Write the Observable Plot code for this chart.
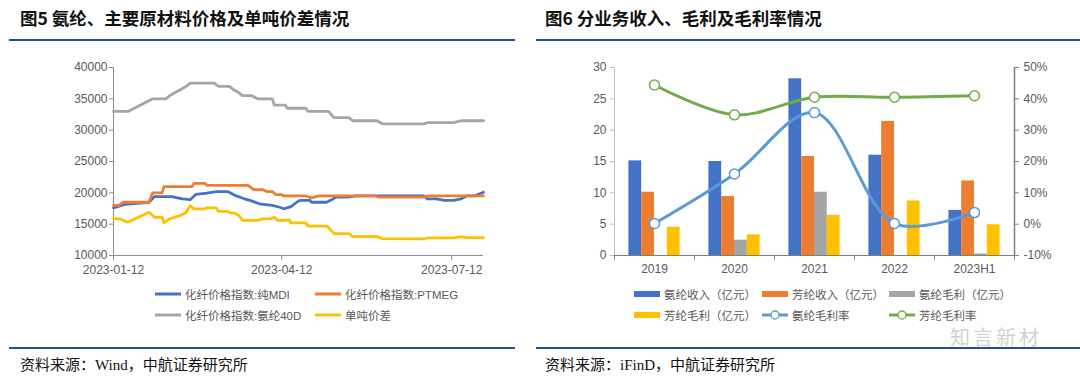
<!DOCTYPE html>
<html>
<head>
<meta charset="utf-8">
<script src="https://cdn.jsdelivr.net/npm/d3@7"></script>
<script src="https://cdn.jsdelivr.net/npm/@observablehq/plot@0.6"></script>
<style>
  html, body { margin: 0; padding: 0; background: #fff; }
  #root { position: relative; width: 1080px; height: 378px; overflow: hidden; font-family: "Liberation Sans", "Noto Sans CJK SC", sans-serif; }
  .title { position: absolute; top: 8px; font-family: "Noto Sans CJK SC", sans-serif; font-weight: 700; font-size: 17.5px; line-height: 20px; color: #111; white-space: pre; }
  .rule { position: absolute; height: 2px; background: #1f4e9a; }
  .source { position: absolute; top: 355px; font-family: "Liberation Serif", "Noto Sans CJK SC", serif; font-size: 15px; line-height: 20px; color: #111; white-space: nowrap; }
  .chart { position: absolute; top: 55px; }
  .leg { position: absolute; display: flex; align-items: center; font-family: "Liberation Sans", "Noto Sans CJK SC", sans-serif; font-size: 11.5px; color: #595959; white-space: nowrap; height: 14px; }
  .leg svg { margin-right: 3px; }
  .wm { position: absolute; left: 950px; top: 327px; font-family: "Noto Sans CJK SC", sans-serif; font-size: 20px; line-height: 20px; color: rgba(170,170,170,0.55); letter-spacing: 3px; white-space: nowrap; }
</style>
</head>
<body>
<div id="root"></div>
<script>
// ---------------- Left chart data (Fig. 5) ----------------
const leftXTicks = ["2023-01-12", "2023-04-12", "2023-07-12"];
const leftYTicks = [10000, 15000, 20000, 25000, 30000, 35000, 40000];

const mdiName = "化纤价格指数:纯MDI";
const mdiDates = ["2023-01-12","2023-01-18","2023-01-31","2023-02-03","2023-02-12","2023-02-18","2023-02-22","2023-02-25","2023-03-03","2023-03-08","2023-03-14","2023-03-18","2023-03-23","2023-03-26","2023-03-31","2023-04-07","2023-04-11","2023-04-13","2023-04-17","2023-04-20","2023-04-22","2023-04-27","2023-04-28","2023-05-06","2023-05-09","2023-05-11","2023-05-17","2023-05-22","2023-06-27","2023-06-29","2023-07-04","2023-07-08","2023-07-13","2023-07-17","2023-07-20","2023-07-24","2023-07-29"];
const mdiValues = [17600,18150,18500,19400,19400,19050,18900,19750,19950,20200,20200,19600,19050,18800,18250,18000,17700,17450,17800,18500,18800,18800,18500,18500,18950,19300,19300,19500,19500,19050,19050,18800,18800,19050,19500,19500,20100];

const ptmegName = "化纤价格指数:PTMEG";
const ptmegDates = ["2023-01-12","2023-01-15","2023-01-17","2023-01-31","2023-02-02","2023-02-07","2023-02-08","2023-02-23","2023-02-24","2023-03-02","2023-03-03","2023-03-25","2023-03-28","2023-04-02","2023-04-04","2023-04-07","2023-04-09","2023-04-12","2023-04-13","2023-04-25","2023-04-28","2023-05-02","2023-06-01","2023-06-03","2023-06-27","2023-06-29","2023-07-29"];
const ptmegValues = [18000,18000,18500,18500,20000,20000,21000,21000,21500,21500,21200,21200,20500,20500,20200,20200,19700,19700,19500,19500,19200,19500,19500,19300,19300,19500,19500];

const spandex40dName = "化纤价格指数:氨纶40D";
const spandex40dDates = ["2023-01-12","2023-01-20","2023-02-02","2023-02-09","2023-02-11","2023-02-14","2023-02-17","2023-02-20","2023-02-22","2023-03-07","2023-03-09","2023-03-15","2023-03-17","2023-03-20","2023-03-22","2023-03-27","2023-03-30","2023-04-07","2023-04-08","2023-04-14","2023-04-15","2023-04-25","2023-04-26","2023-05-07","2023-05-10","2023-05-18","2023-05-20","2023-06-02","2023-06-05","2023-06-27","2023-06-29","2023-07-13","2023-07-17","2023-07-29"];
const spandex40dValues = [33000,33000,35000,35000,35500,36000,36500,37000,37500,37500,37000,37000,36500,36000,35500,35500,35000,35000,34000,34000,33500,33500,33000,33000,32000,32000,31500,31500,31000,31000,31200,31200,31500,31500];

const spreadName = "单吨价差";
const spreadDates = ["2023-01-12","2023-01-16","2023-01-19","2023-01-20","2023-01-31","2023-02-03","2023-02-07","2023-02-08","2023-02-11","2023-02-17","2023-02-20","2023-02-22","2023-02-24","2023-03-02","2023-03-03","2023-03-08","2023-03-09","2023-03-14","2023-03-16","2023-03-18","2023-03-20","2023-03-22","2023-03-30","2023-04-02","2023-04-06","2023-04-08","2023-04-10","2023-04-14","2023-04-16","2023-04-17","2023-04-25","2023-04-26","2023-05-06","2023-05-07","2023-05-10","2023-05-18","2023-05-20","2023-06-02","2023-06-05","2023-06-26","2023-06-27","2023-06-29","2023-07-13","2023-07-17","2023-07-20","2023-07-29"];
const spreadValues = [15900,15800,15350,15350,16900,16100,16100,15200,15850,16400,16900,17950,17450,17450,17600,17600,17050,17050,16750,16750,16400,15600,15600,15850,15850,16100,15600,15600,15700,15200,15200,14700,14700,14500,13500,13500,13000,13000,12700,12650,12600,12800,12800,13000,12850,12850];

// ---------------- Right chart data (Fig. 6) ----------------
const years = ["2019", "2020", "2021", "2022", "2023H1"];
const spandexRevenue = [15.1, 15.0, 28.2, 16.0, 7.2];     // 氨纶收入（亿元）
const aramidRevenue  = [10.1, 9.4, 15.8, 21.4, 11.9];     // 芳纶收入（亿元）
const spandexProfit  = [0, 2.45, 10.1, 0, 0.25];          // 氨纶毛利（亿元）
const aramidProfit   = [4.5, 3.3, 6.4, 8.7, 4.9];         // 芳纶毛利（亿元）
const spandexMargin  = [0.2, 16.0, 35.6, 0.2, 3.7];       // 氨纶毛利率 (%)
const aramidMargin   = [44.4, 34.9, 40.5, 40.5, 41.0];    // 芳纶毛利率 (%)
const rightYTicks = [0, 5, 10, 15, 20, 25, 30];
const rightPctTicks = [-10, 0, 10, 20, 30, 40, 50];

// ---------------- Page scaffolding ----------------
const root = document.getElementById("root");
function el(tag, cls, text, style) {
  const e = document.createElement(tag);
  if (cls) e.className = cls;
  if (text != null) e.textContent = text;
  if (style) Object.assign(e.style, style);
  root.appendChild(e);
  return e;
}
el("div", "title", "图5 氨纶、主要原材料价格及单吨价差情况", {left: "20px"});
el("div", "title", "图6 分业务收入、毛利及毛利率情况", {left: "545px"});
el("div", "rule", null, {left: "9px", width: "506px", top: "39px"});
el("div", "rule", null, {left: "536px", width: "544px", top: "39px"});
el("div", "rule", null, {left: "9px", width: "506px", top: "347px"});
el("div", "rule", null, {left: "536px", width: "544px", top: "347px"});
el("div", "source", "资料来源：Wind，中航证券研究所", {left: "20px"});
el("div", "source", "资料来源：iFinD，中航证券研究所", {left: "545px"});

const parse = d3.utcParse("%Y-%m-%d");
const C = {blue: "#4472C4", orange: "#ED7D31", gray: "#A5A5A5", yellow: "#FFC000", lblue: "#5B9BD5", green: "#70AD47"};
const axisColor = "#8c8c8c";
const labelColor = "#595959";

// ---------------- Left chart ----------------
const toRows = (dates, values) => dates.map((d, i) => ({date: parse(d), value: values[i]}));
const leftSeries = [
  {name: mdiName, rows: toRows(mdiDates, mdiValues), color: C.blue},
  {name: ptmegName, rows: toRows(ptmegDates, ptmegValues), color: C.orange},
  {name: spandex40dName, rows: toRows(spandex40dDates, spandex40dValues), color: C.gray},
  {name: spreadName, rows: toRows(spreadDates, spreadValues), color: C.yellow}
];
const xStart = parse(mdiDates[0]);
const xEnd = parse(mdiDates[mdiDates.length - 1]);

const leftPlot = Plot.plot({
  width: 500, height: 230,
  marginLeft: 113, marginRight: 17, marginTop: 12, marginBottom: 30,
  style: {fontFamily: "Liberation Sans, Arial, sans-serif", fontSize: "12px", color: labelColor, background: "transparent", overflow: "visible"},
  x: {type: "utc", domain: [xStart, xEnd]},
  y: {domain: [leftYTicks[0], leftYTicks[leftYTicks.length - 1]]},
  marks: [
    Plot.axisY({ticks: leftYTicks, tickSize: 4, tickPadding: 2, tickFormat: d3.format("d"), label: null, stroke: axisColor, fill: labelColor}),
    Plot.axisX({ticks: leftXTicks.map(parse), tickSize: 5, tickPadding: 5, tickFormat: d3.utcFormat("%Y-%m-%d"), label: null, stroke: axisColor, fill: labelColor}),
    Plot.ruleX([xStart], {stroke: axisColor}),
    Plot.ruleY([leftYTicks[0]], {stroke: axisColor}),
    ...leftSeries.map(s => Plot.line(s.rows, {x: "date", y: "value", stroke: s.color, strokeWidth: 2.8, strokeLinejoin: "round", strokeLinecap: "round"}))
  ]
});
leftPlot.classList.add("chart");
leftPlot.style.left = "0px";
root.appendChild(leftPlot);

// ---------------- Right chart ----------------
const RW = 540, RML = 74, RMR = 66;
const bandW = (RW - RML - RMR) / years.length;
const barW = bandW * 0.16;
const groupPad = (bandW - 4 * barW) / 2;
const toPct = p => (p - rightPctTicks[0]) * (rightYTicks[rightYTicks.length - 1] / (rightPctTicks[rightPctTicks.length - 1] - rightPctTicks[0]));
const fromLeft = v => v * (rightPctTicks[rightPctTicks.length - 1] - rightPctTicks[0]) / rightYTicks[rightYTicks.length - 1] + rightPctTicks[0];

const barSeries = [
  {name: "氨纶收入（亿元）", values: spandexRevenue, color: C.blue},
  {name: "芳纶收入（亿元）", values: aramidRevenue, color: C.orange},
  {name: "氨纶毛利（亿元）", values: spandexProfit, color: C.gray},
  {name: "芳纶毛利（亿元）", values: aramidProfit, color: C.yellow}
];
const lineSeries = [
  {name: "氨纶毛利率", values: spandexMargin, color: C.lblue},
  {name: "芳纶毛利率", values: aramidMargin, color: C.green}
];

const rightPlot = Plot.plot({
  width: RW, height: 230,
  marginLeft: RML, marginRight: RMR, marginTop: 12, marginBottom: 30,
  style: {fontFamily: "Liberation Sans, Arial, sans-serif", fontSize: "12px", color: labelColor, background: "transparent", overflow: "visible"},
  x: {type: "band", domain: years, padding: 0},
  y: {domain: [rightYTicks[0], rightYTicks[rightYTicks.length - 1]]},
  marks: [
    ...barSeries.map((s, i) => Plot.barY(years.map((y, j) => ({year: y, value: s.values[j]})), {
      x: "year", y: "value", fill: s.color,
      insetLeft: groupPad + i * barW, insetRight: bandW - groupPad - (i + 1) * barW
    })),
    Plot.axisY({ticks: rightYTicks, tickSize: 4, tickPadding: 4, label: null, stroke: "#c0c0c0", fill: labelColor}),
    Plot.axisY({anchor: "right", ticks: rightYTicks, tickSize: 4, tickPadding: 5, label: null, tickFormat: v => fromLeft(v) + "%", stroke: "#7f7f7f", fill: labelColor}),
    Plot.axisX({tickSize: 0, tickPadding: 9, label: null, fill: labelColor}),
    // axis lines
    Plot.ruleX([years[0]], {dx: -bandW / 2, stroke: "#c0c0c0"}),
    Plot.ruleX([years[years.length - 1]], {dx: bandW / 2, stroke: "#7f7f7f", strokeWidth: 1.5}),
    Plot.ruleY([0], {stroke: "#7f7f7f", strokeWidth: 1.2}),
    // category boundary ticks on the x axis
    Plot.ruleX(years, {dx: -bandW / 2, y1: 0, y2: -0.75, stroke: "#7f7f7f"}),
    Plot.ruleX([years[years.length - 1]], {dx: bandW / 2, y1: 0, y2: -0.75, stroke: "#7f7f7f"}),
    // margin lines
    ...lineSeries.map(s => Plot.line(years.map((y, j) => ({year: y, value: toPct(s.values[j])})), {
      x: "year", y: "value", stroke: s.color, strokeWidth: 3, curve: "catmull-rom", strokeLinecap: "round"
    })),
    ...lineSeries.map(s => Plot.dot(years.map((y, j) => ({year: y, value: toPct(s.values[j])})), {
      x: "year", y: "value", r: 5, fill: "white", stroke: s.color, strokeWidth: 1.5
    }))
  ]
});
rightPlot.classList.add("chart");
rightPlot.style.left = "540px";
root.appendChild(rightPlot);

// ---------------- Legends ----------------
const NS = "http://www.w3.org/2000/svg";
function swatch(kind, color) {
  const s = document.createElementNS(NS, "svg");
  s.setAttribute("width", 28); s.setAttribute("height", 12);
  if (kind === "bar") {
    const r = document.createElementNS(NS, "rect");
    r.setAttribute("x", 1); r.setAttribute("y", 3); r.setAttribute("width", 26); r.setAttribute("height", 6);
    r.setAttribute("fill", color); s.appendChild(r);
  } else {
    const l = document.createElementNS(NS, "line");
    l.setAttribute("x1", 1); l.setAttribute("x2", 27); l.setAttribute("y1", 6); l.setAttribute("y2", 6);
    l.setAttribute("stroke", color); l.setAttribute("stroke-width", 3); s.appendChild(l);
    if (kind === "marker") {
      const c = document.createElementNS(NS, "circle");
      c.setAttribute("cx", 14); c.setAttribute("cy", 6); c.setAttribute("r", 4);
      c.setAttribute("fill", "white"); c.setAttribute("stroke", color); c.setAttribute("stroke-width", 1.3);
      s.appendChild(c);
    }
  }
  return s;
}
function legendItem(kind, color, text, x, y) {
  const d = el("div", "leg", null, {left: x + "px", top: (y - 7) + "px"});
  d.appendChild(swatch(kind, color));
  const t = document.createElement("span"); t.textContent = text; d.appendChild(t);
}
// left legend
const leftPos = [[154, 294], [314, 294], [154, 315], [314, 315]];
leftSeries.forEach((s, i) => legendItem("line", s.color, s.name, leftPos[i][0], leftPos[i][1]));
// right legend
const rightItems = [
  ["bar", barSeries[0].color, barSeries[0].name],
  ["bar", barSeries[1].color, barSeries[1].name],
  ["bar", barSeries[2].color, barSeries[2].name],
  ["bar", barSeries[3].color, barSeries[3].name],
  ["marker", lineSeries[0].color, lineSeries[0].name],
  ["marker", lineSeries[1].color, lineSeries[1].name]
];
const rightPos = [[633, 294], [761, 294], [888, 294], [633, 315], [761, 315], [888, 315]];
rightItems.forEach((it, i) => legendItem(it[0], it[1], it[2], rightPos[i][0], rightPos[i][1]));

// watermark
el("div", "wm", "知言新材");
</script>
</body>
</html>
